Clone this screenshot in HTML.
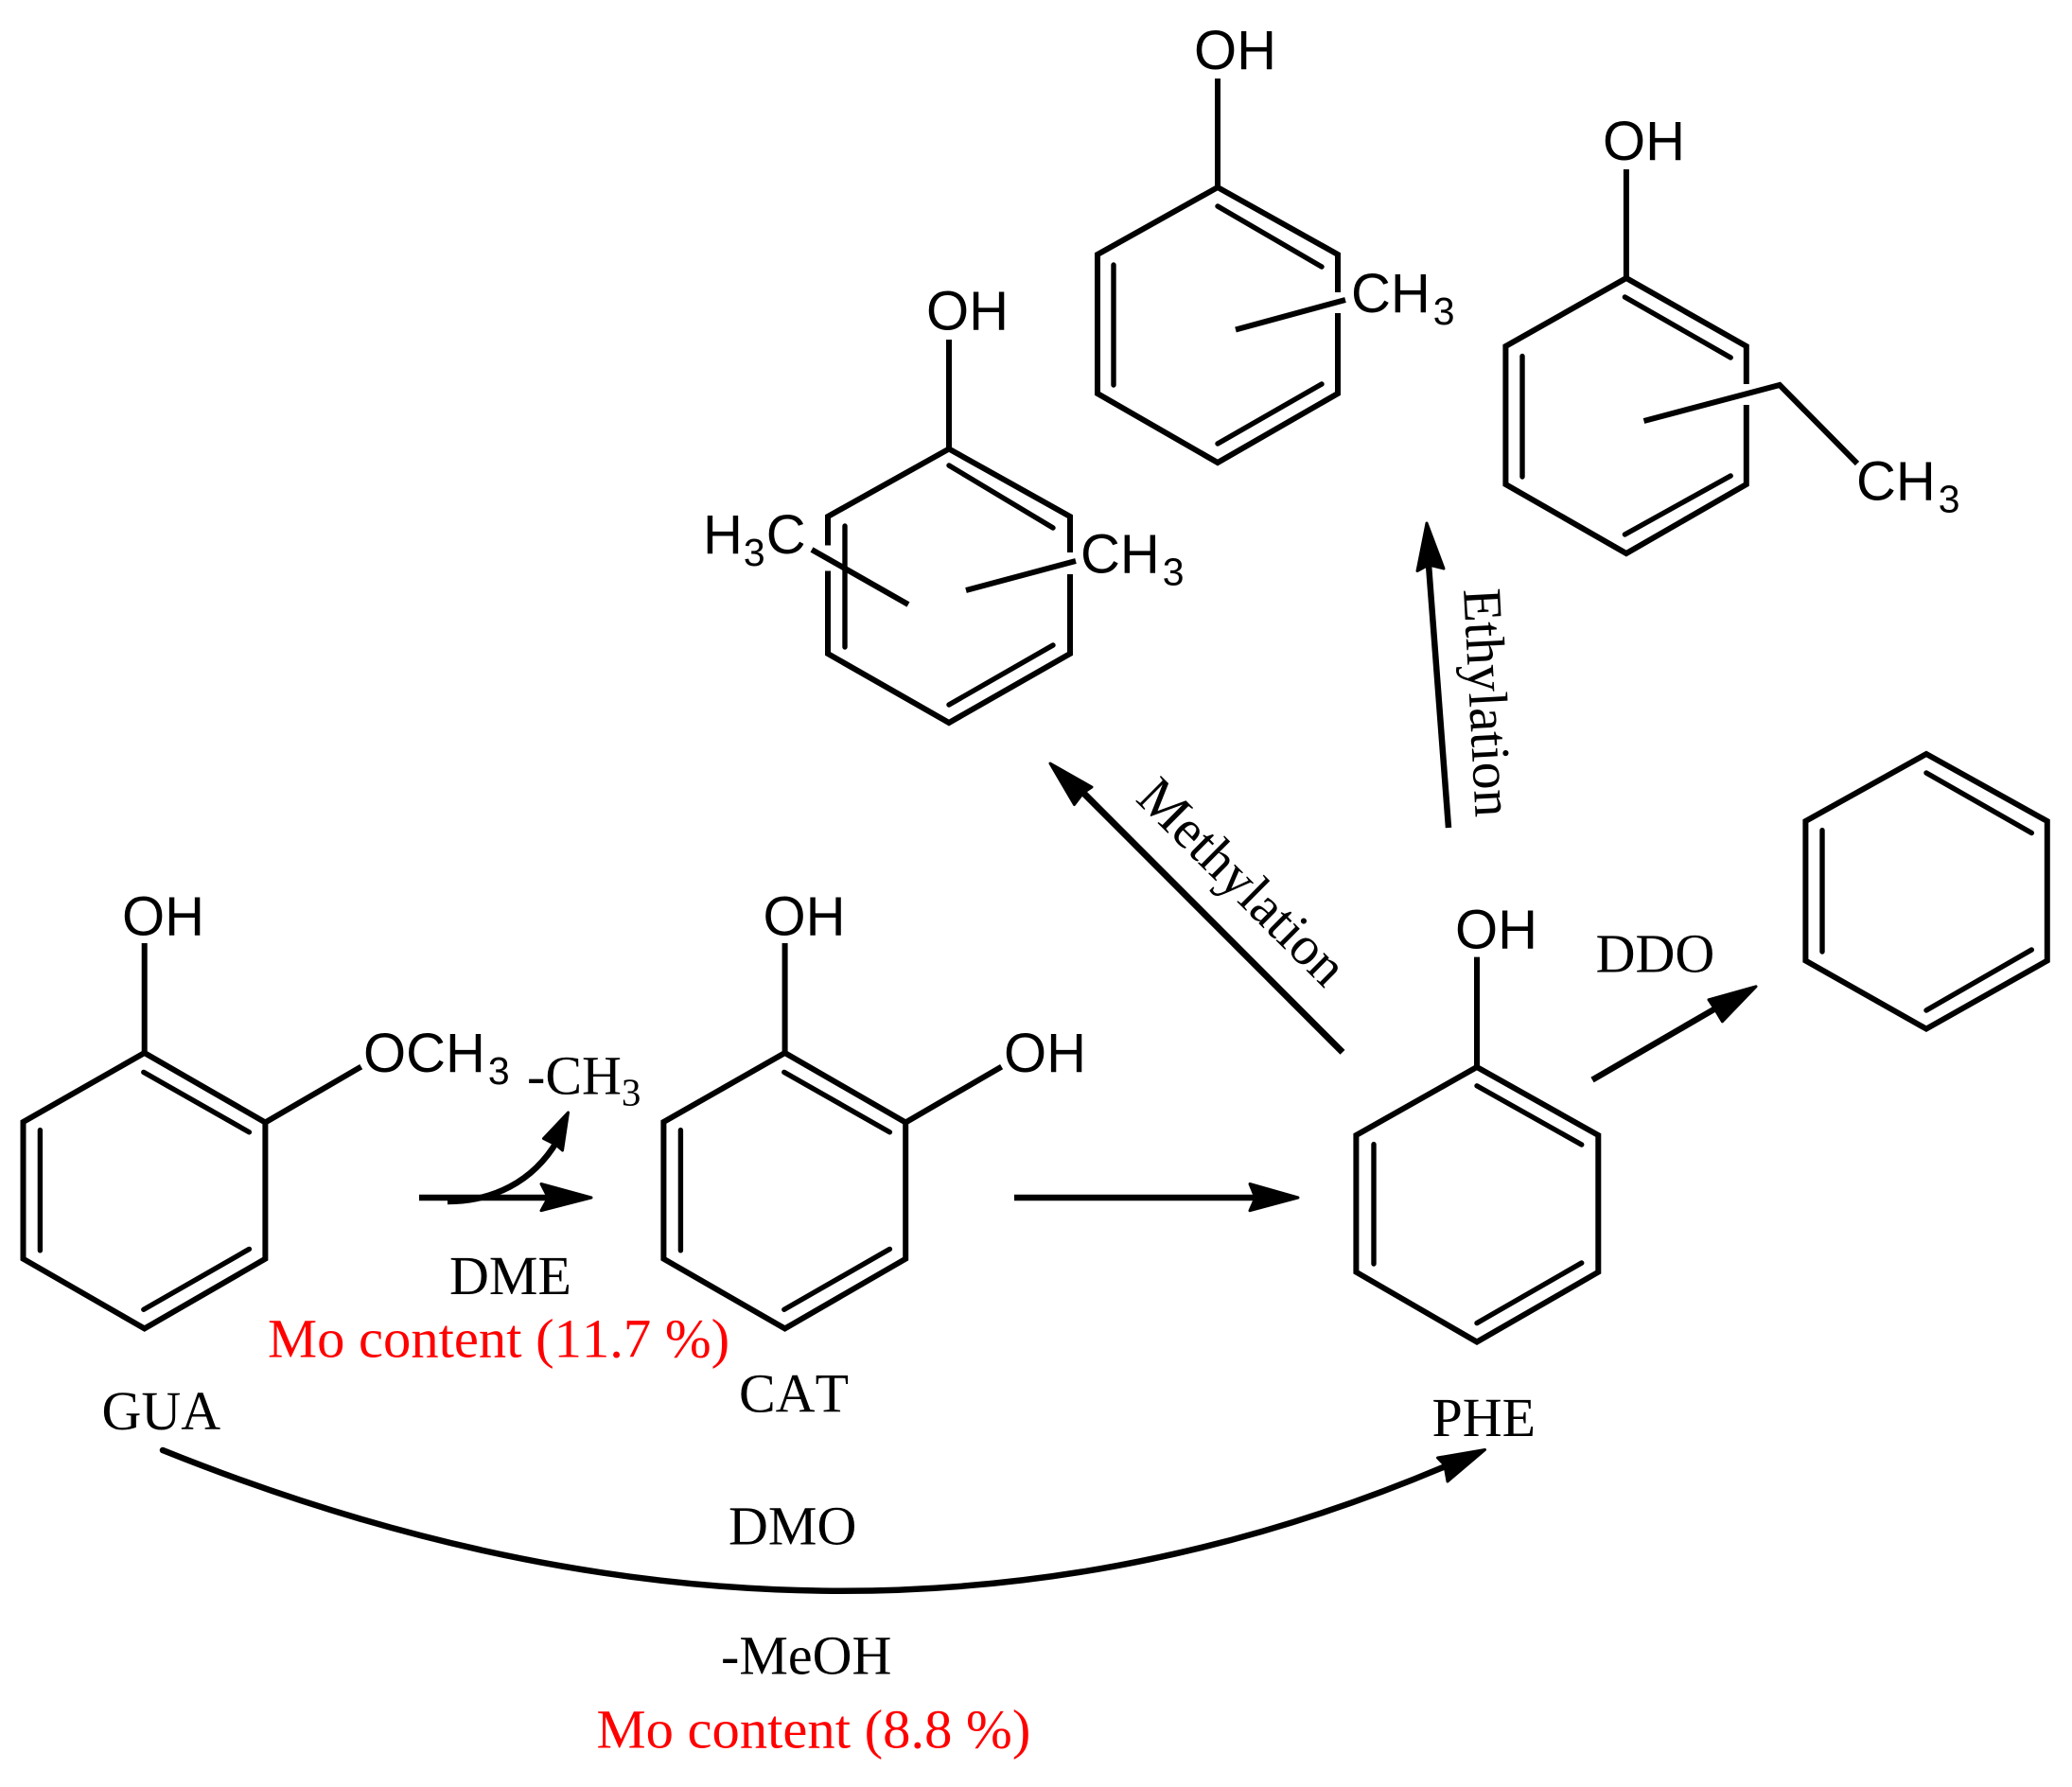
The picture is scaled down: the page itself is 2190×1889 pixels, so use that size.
<!DOCTYPE html>
<html><head><meta charset="utf-8"><title>Reaction network</title>
<style>
html,body{margin:0;padding:0;background:#fff;width:2190px;height:1889px;overflow:hidden}
svg{display:block}
text{font-kerning:none;white-space:pre}
.s{font-family:"Liberation Sans",sans-serif;font-size:58px;fill:#000}
.t{font-family:"Liberation Serif",serif;font-size:58px;fill:#000}
.r{font-family:"Liberation Serif",serif;font-size:58.6px;fill:#f00}
.sub{font-size:41px}
.b{fill:none;stroke:#000;stroke-width:6;stroke-linejoin:miter}
.i{fill:none;stroke:#000;stroke-width:5.4;stroke-linecap:round}
.a{fill:#000;stroke:#000;stroke-width:3;stroke-linejoin:round}
</style></head><body>
<svg width="2190" height="1889" viewBox="0 0 2190 1889" xmlns="http://www.w3.org/2000/svg">
<rect width="2190" height="1889" fill="#fff"/>

<!-- GUA -->
<polygon class="b" points="152.7,1113 280.4,1186.5 280.4,1330.7 152.7,1404.4 24.5,1330.7 24.5,1186"/>
<path class="i" d="M151.8,1133.4L263.4,1196.8M42.4,1194.6V1321.8M263.4,1320.4L151.8,1384.3"/>
<path class="b" d="M152.7,997V1113M280.4,1186.5L381.7,1127.6"/>
<text class="s" x="129" y="988.5">OH</text>
<text class="s" x="384" y="1133">OCH<tspan class="sub" dx="3" dy="13">3</tspan></text>
<text class="t" x="107.5" y="1511">GUA</text>

<!-- CAT -->
<polygon class="b" points="829.6,1113 957.2,1186.5 957.2,1330.7 829.6,1404.4 701.4,1330.7 701.4,1186"/>
<path class="i" d="M828.8,1133.4L940.4,1196.8M719.4,1194.6V1321.8M940.4,1320.4L828.8,1384.3"/>
<path class="b" d="M829.6,997V1113M957.2,1186.5L1058.6,1127.6"/>
<text class="s" x="806.5" y="988.5">OH</text>
<text class="s" x="1061" y="1133">OH</text>
<text class="t" x="781" y="1492.7">CAT</text>

<!-- PHE -->
<polygon class="b" points="1561,1128 1689.3,1200 1689.3,1344.7 1561,1418.5 1433.4,1344.7 1433.4,1200"/>
<path class="i" d="M1561,1147.8L1671.7,1210M1452,1209.6V1336M1671.7,1335L1561,1398.6"/>
<path class="b" d="M1561,1011.6V1128"/>
<text class="s" x="1538" y="1002.5">OH</text>
<text class="t" x="1513.5" y="1517.8">PHE</text>

<!-- Benzene -->
<polygon class="b" points="2036,797 2163.8,868 2163.8,1015.5 2036,1087.6 1908.4,1015.5 1908.4,868"/>
<path class="i" d="M2036,817L2147.3,880.5M1926,877.6V1006M2147.3,1004L2036,1068"/>

<!-- Dimethyl phenol -->
<path class="b" d="M875,576.5V546L1003,474.5L1131,546V584M1131,607V691L1003,764L875,691V603.5"/>
<path class="i" d="M1003,492L1113,558M893,556V684M1113,682L1003,745"/>
<path class="b" d="M1003,359V474.5M858,581L960,639M1137,593L1021,624"/>
<text class="s" x="979" y="348.5">OH</text>
<text class="s" x="743" y="585">H<tspan class="sub" dx="1" dy="13">3</tspan><tspan dx="1" dy="-13">C</tspan></text>
<text class="s" x="1142" y="605.6">CH<tspan class="sub" dx="3" dy="13">3</tspan></text>

<!-- Methyl phenol -->
<path class="b" d="M1414,309V269L1287,198L1160,269V416L1287,489L1414,416V331"/>
<path class="i" d="M1287,218L1397,282M1177,280V407M1397,406L1287,469"/>
<path class="b" d="M1287,83V198M1422,317L1306,348.5"/>
<text class="s" x="1262" y="73">OH</text>
<text class="s" x="1428" y="330">CH<tspan class="sub" dx="3" dy="13">3</tspan></text>

<!-- Ethyl phenol -->
<path class="b" d="M1845.8,406V366L1718.9,294L1591.4,366V512L1718.9,585L1845.8,512V428"/>
<path class="i" d="M1717.4,314L1829.2,378M1609,376.5V504M1829.2,503L1717.4,565"/>
<path class="b" d="M1718.9,179V294M1737.5,445L1881,407L1963,490"/>
<text class="s" x="1694" y="169">OH</text>
<text class="s" x="1962" y="528.6">CH<tspan class="sub" dx="3" dy="13">3</tspan></text>

<!-- GUA to CAT -->
<path d="M443,1266H580" fill="none" stroke="#000" stroke-width="6.5"/>
<polygon class="a" points="625,1266 572,1251.5 579.5,1266 572,1279.7"/>
<path d="M473,1270C520,1270 563,1250 589,1206" fill="none" stroke="#000" stroke-width="6.5"/>
<polygon class="a" points="600.5,1176 574.5,1203.5 587.5,1210 594.5,1216"/>
<text class="t" x="557" y="1156.6">-CH<tspan class="sub" dy="12">3</tspan></text>
<text class="t" x="475" y="1367.8">DME</text>
<text class="r" x="283" y="1434.7">Mo content (11.7 %)</text>

<!-- CAT to PHE -->
<path d="M1072,1266H1330" fill="none" stroke="#000" stroke-width="6.5"/>
<polygon class="a" points="1372,1266 1321,1251.5 1327,1266 1321,1279.7"/>

<!-- Methylation -->
<path d="M1419,1112.3L1143,836" fill="none" stroke="#000" stroke-width="7"/>
<polygon class="a" points="1110,807 1154,832 1145,838 1135.5,850.5"/>
<text class="t" transform="translate(1199,845.7) rotate(44.8)">Methylation</text>

<!-- Ethylation -->
<path d="M1531,875L1510,597" fill="none" stroke="#000" stroke-width="6.5"/>
<polygon class="a" points="1508,553 1498,603.5 1510,597 1526,601"/>
<text class="t" transform="translate(1547,623) rotate(87)">Ethylation</text>

<!-- DDO -->
<path d="M1683,1141.5L1815,1065" fill="none" stroke="#000" stroke-width="6.5"/>
<polygon class="a" points="1856,1042.8 1806,1056.8 1812.5,1066.6 1820.4,1079.8"/>
<text class="t" x="1686.6" y="1027.4">DDO</text>

<!-- DMO curve -->
<path d="M172,1533C650,1725 1100,1732 1530,1549" fill="none" stroke="#000" stroke-width="6.5" stroke-linecap="round"/>
<polygon class="a" points="1569.5,1532.5 1519.5,1541 1527,1549 1530,1566"/>
<text class="t" x="770" y="1632.3">DMO</text>
<text class="t" x="762" y="1769.3">-MeOH</text>
<text class="r" x="630.5" y="1847.3">Mo content (8.8 %)</text>
</svg>
</body></html>
